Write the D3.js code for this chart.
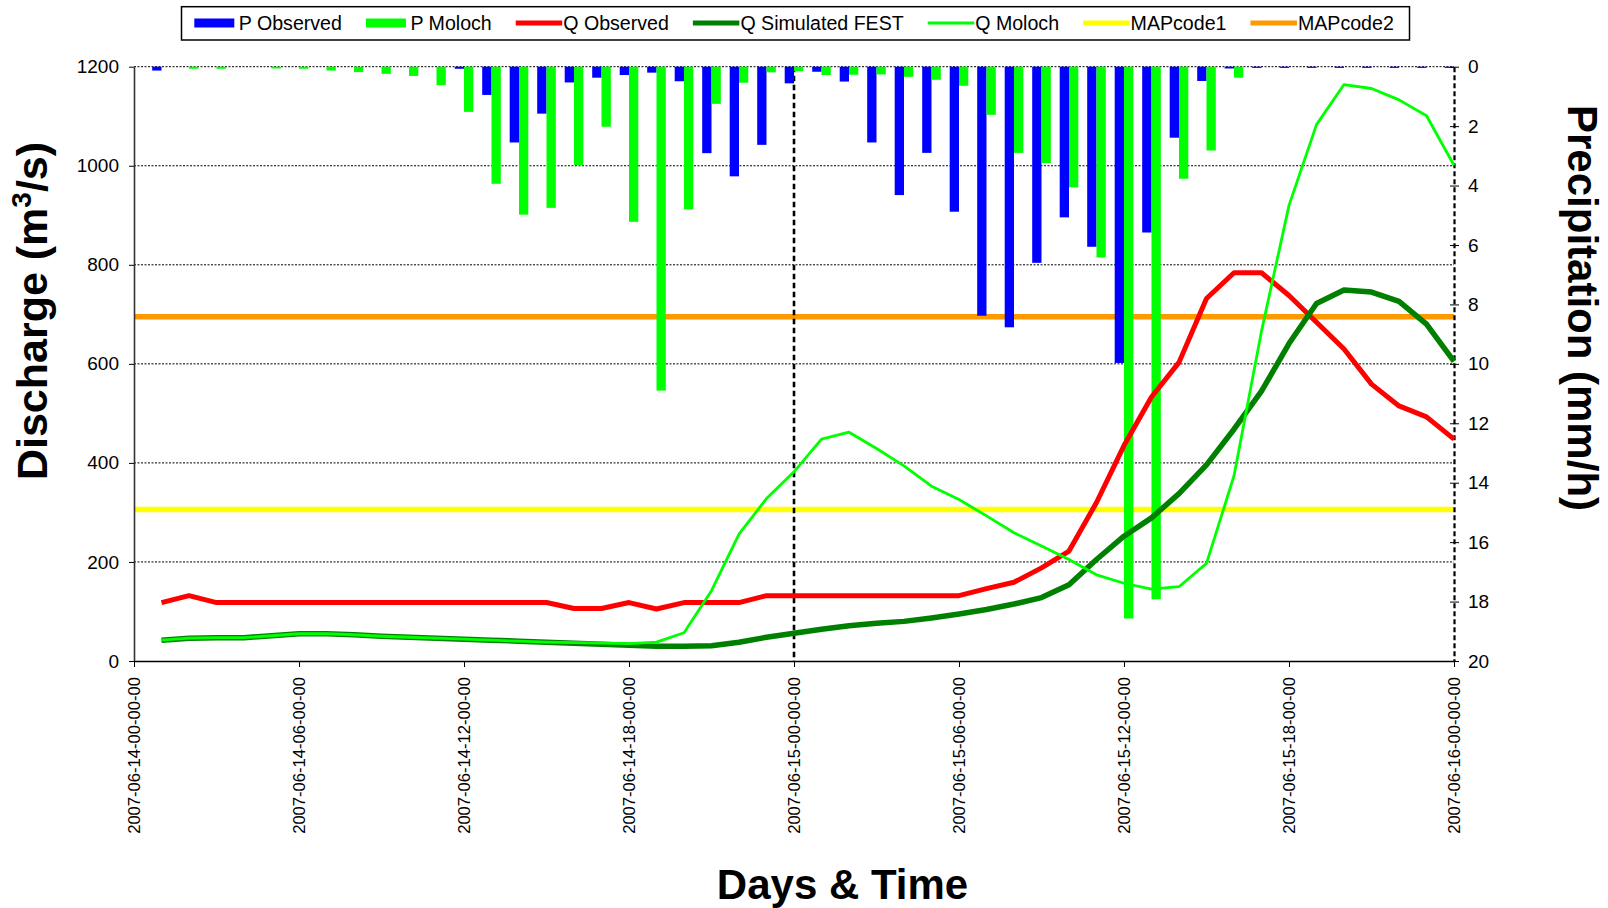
<!DOCTYPE html>
<html><head><meta charset="utf-8">
<script src="https://cdn.jsdelivr.net/npm/d3@7"></script>
<style>
body{margin:0;background:#fff}
svg{display:block;background:#fff}
text{font-family:"Liberation Sans",Arial,sans-serif;fill:#000}
</style>
</head><body>
<svg id="chart" width="1608" height="908"></svg>
<script>
// ---------- data ----------
const hours = d3.range(1, 49); // hourly steps after 2007-06-14 00:00
const pObserved = [0.13, 0,0,0,0,0,0,0,0,0,0,
  0.07,0.95,2.55,1.58,0.53,0.37,0.28,0.2,0.49,2.91,
  3.69,2.63,0.56,0.17,0.5,2.55,4.32,2.9,4.88,8.38,
  8.77,6.6,5.07,6.06,9.97,5.58,2.39,0.48,0.06,0.04,
  0.04,0.04,0.04,0.04,0.04,0.04,0.04];
const pMoloch = [0,0.07,0.07,0,0.06,0.07,0.13,0.18,0.24,0.31,
  0.62,1.52,3.94,4.98,4.75,3.31,2.02,5.22,10.9,4.8,
  1.25,0.54,0.19,0.15,0.28,0.27,0.26,0.34,0.44,0.64,
  1.62,2.9,3.24,4.06,6.42,18.57,17.92,3.77,2.82,0.37,
  0,0,0,0,0,0,0,0];
const qObserved = [118,132,118,118,118,118,118,118,118,118,
  118,118,118,118,118,106,106,118,105,118,
  118,118,132,132,132,132,132,132,132,132,
  146,159,188,222,320,435,533,603,732,784,
  784,738,684,630,559,515,493,448];
const qFest = [42,46,47,47,51,55,55,53,50,48,
  46,44,42,40,38,36,34,32,30,30,
  31,38,48,56,64,71,76,80,87,95,
  104,115,128,154,205,252,289,338,396,468,
  545,641,722,749,745,726,680,605];
const qMoloch = [42,46,47,47,51,55,55,53,50,48,
  46,44,42,40,38,37,36,35,38,57,
  142,256,328,382,448,462,429,394,353,326,
  293,259,232,205,174,157,145,150,197,374,
  666,920,1083,1164,1156,1133,1101,1001];
const mapCode1 = 306;
const mapCode2 = 695;
const markerHours = [24];
const qTicks = [0,200,400,600,800,1000,1200];
const pTicks = [0,2,4,6,8,10,12,14,16,18,20];
const xTicks = [0,6,12,18,24,30,36,42,48];
const xTickLabels = ["2007-06-14-00-00-00","2007-06-14-06-00-00","2007-06-14-12-00-00",
  "2007-06-14-18-00-00","2007-06-15-00-00-00","2007-06-15-06-00-00","2007-06-15-12-00-00",
  "2007-06-15-18-00-00","2007-06-16-00-00-00"];
const legendNames = ["P Observed","P Moloch","Q Observed","Q Simulated FEST","Q Moloch","MAPcode1","MAPcode2"];

// ---------- layout ----------
const svg = d3.select('#chart');
const m = {left:134, right:1454, top:66.7, bottom:661};
const x = d3.scaleLinear().domain([0,48]).range([m.left, m.right]);
const yQ = d3.scaleLinear().domain([0,1200]).range([m.bottom, m.top]);
const yP = d3.scaleLinear().domain([0,20]).range([m.top, m.bottom]);
const barW = 9.3;
const FONT = '"Liberation Sans",Arial,sans-serif';

// gridlines
svg.append('g').selectAll('line').data(qTicks.filter(d=>d>0)).join('line')
  .attr('x1', m.left).attr('x2', m.right)
  .attr('y1', d=>yQ(d)).attr('y2', d=>yQ(d))
  .attr('stroke', '#000').attr('stroke-width', 1).attr('stroke-dasharray', '2,1.5');

// threshold lines
const thr = svg.append('g');
[[mapCode1,'#ffff00'],[mapCode2,'#ff9900']].forEach(([v,c])=>{
  thr.append('line').attr('x1', m.left).attr('x2', m.right)
    .attr('y1', yQ(v)).attr('y2', yQ(v)).attr('stroke', c).attr('stroke-width', 5.5);
});

// marker vertical dashed line
svg.append('g').selectAll('line').data(markerHours).join('line')
  .attr('x1', d=>x(d)).attr('x2', d=>x(d)).attr('y1', m.top).attr('y2', m.bottom)
  .attr('stroke', '#000').attr('stroke-width', 2.6).attr('stroke-dasharray', '5.5,3.5');

// bars (precipitation, hanging from top)
const barG = svg.append('g');
barG.selectAll('rect.po').data(hours.map((h,i)=>({h, v:pObserved[i]})).filter(d=>d.v>0)).join('rect')
  .attr('class','po').attr('x', d=>x(d.h)-barW).attr('y', yP(0))
  .attr('width', barW).attr('height', d=>yP(d.v)-yP(0)).attr('fill', '#0000ff');
barG.selectAll('rect.pm').data(hours.map((h,i)=>({h, v:pMoloch[i]})).filter(d=>d.v>0)).join('rect')
  .attr('class','pm').attr('x', d=>x(d.h)).attr('y', yP(0))
  .attr('width', barW).attr('height', d=>yP(d.v)-yP(0)).attr('fill', '#00ff00');

// axes
const left = svg.append('g').attr('transform', `translate(${m.left},0)`)
  .call(d3.axisLeft(yQ).tickValues(qTicks).tickFormat(d3.format('d')).tickSize(5).tickSizeOuter(0).tickPadding(10));
left.select('.domain').attr('stroke', '#333').attr('stroke-width', 1.6);
left.selectAll('.tick line').attr('stroke', '#000');
left.selectAll('.tick text').attr('font-size', 19).attr('font-family', FONT);

const right = svg.append('g').attr('transform', `translate(${m.right},0)`)
  .call(d3.axisRight(yP).tickValues(pTicks).tickFormat(d3.format('d')).tickSize(5).tickSizeOuter(0).tickPadding(9));
right.select('.domain').attr('stroke', '#000').attr('stroke-width', 2.2).attr('stroke-dasharray', '5,3');
right.selectAll('.tick line').attr('stroke', '#000').attr('x1', -4);
right.selectAll('.tick text').attr('font-size', 19).attr('font-family', FONT);

const bottom = svg.append('g').attr('transform', `translate(0,${m.bottom})`)
  .call(d3.axisBottom(x).tickValues(xTicks).tickSize(6).tickSizeOuter(0).tickFormat((d,i)=>xTickLabels[i]));
bottom.select('.domain').attr('stroke', '#000').attr('stroke-width', 1.6);
bottom.selectAll('.tick line').attr('stroke', '#000');
bottom.selectAll('.tick text')
  .attr('font-size', 16.6).attr('font-family', FONT)
  .attr('text-anchor', 'end').attr('transform', 'rotate(-90)')
  .attr('x', -16).attr('y', 0).attr('dy', '0.36em');

// discharge lines
const line = d3.line().x((d,i)=>x(hours[i])).y(d=>yQ(d));
const lineG = svg.append('g').attr('fill', 'none').attr('stroke-linejoin', 'round');
lineG.append('path').datum(qObserved).attr('d', line).attr('stroke', '#ff0000').attr('stroke-width', 5);
lineG.append('path').datum(qFest).attr('d', line).attr('stroke', '#008000').attr('stroke-width', 5.5);
lineG.append('path').datum(qMoloch).attr('d', line).attr('stroke', '#00ff00').attr('stroke-width', 2.8);

// axis titles
const yTitle = svg.append('text').attr('transform', 'translate(47,311) rotate(-90)')
  .attr('text-anchor', 'middle').attr('font-size', 43).attr('font-weight', 'bold');
yTitle.append('tspan').text('Discharge (m');
yTitle.append('tspan').attr('font-size', 28).attr('dy', -16).text('3');
yTitle.append('tspan').attr('dy', 16).text('/s)');

svg.append('text').attr('transform', 'translate(1568,308) rotate(90)')
  .attr('text-anchor', 'middle').attr('font-size', 42).attr('font-weight', 'bold')
  .text('Precipitation (mm/h)');

svg.append('text').attr('x', 842.5).attr('y', 899)
  .attr('text-anchor', 'middle').attr('font-size', 42).attr('font-weight', 'bold')
  .text('Days & Time');

// legend
const legend = svg.append('g');
legend.append('rect').attr('x', 181.5).attr('y', 6.7).attr('width', 1228).attr('height', 33.3)
  .attr('fill', '#fff').attr('stroke', '#000').attr('stroke-width', 1.5);
const legendStyle = [
  {type:'bar', color:'#0000ff'}, {type:'bar', color:'#00ff00'},
  {type:'line', color:'#ff0000', w:5}, {type:'line', color:'#008000', w:5},
  {type:'line', color:'#00ff00', w:3}, {type:'line', color:'#ffff00', w:5},
  {type:'line', color:'#ff9900', w:5}];
let lx = 194.3;
const ly = 23;
legendNames.forEach((name, i)=>{
  const s = legendStyle[i];
  let tx;
  if (s.type === 'bar') {
    legend.append('rect').attr('x', lx).attr('y', ly-4.5).attr('width', 40).attr('height', 9).attr('fill', s.color);
    tx = lx + 44.5;
  } else {
    legend.append('line').attr('x1', lx).attr('x2', lx+46.5).attr('y1', ly).attr('y2', ly)
      .attr('stroke', s.color).attr('stroke-width', s.w);
    tx = lx + 47.5;
  }
  const t = legend.append('text').attr('x', tx).attr('y', ly+7).attr('font-size', 19.6).text(name);
  lx = tx + t.node().getComputedTextLength() + 24;
});
</script>
</body></html>
